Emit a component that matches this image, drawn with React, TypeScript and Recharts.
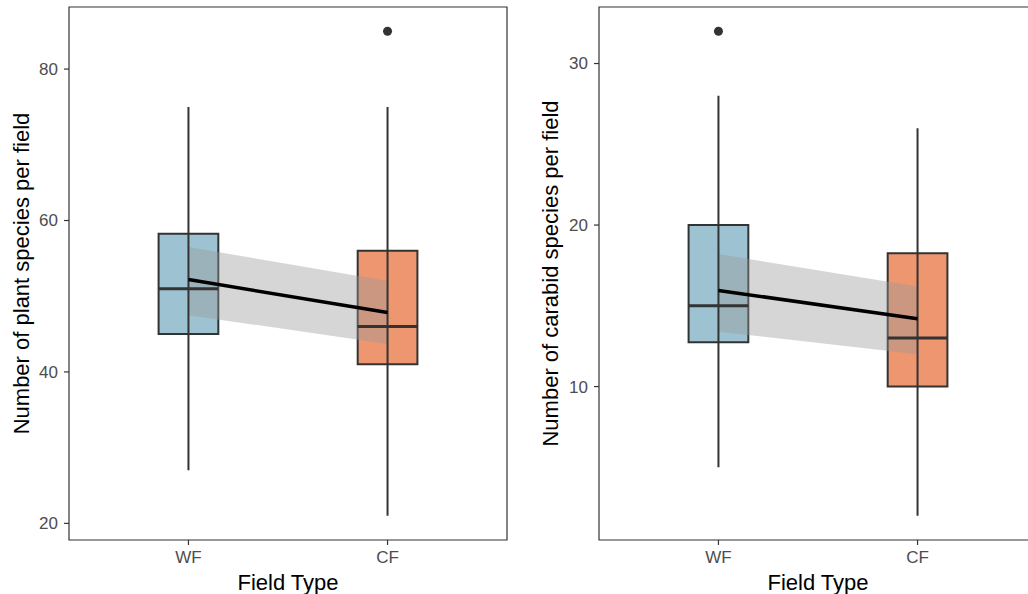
import { ComposedChart, Area, Line, XAxis, YAxis, ReferenceArea, ReferenceLine, ReferenceDot, Label } from "recharts"

const categories = ["WF", "CF"]
const boxColors = ["#9dc3d2", "#ee9670"]

// plant species per field
const plantMin = [27, 21]
const plantQ1 = [45, 41]
const plantMedian = [51, 46]
const plantQ3 = [58.25, 56]
const plantMax = [75, 75]
const plantOutliers = [[], [85]]
const plantFit = [52.2, 47.85]
const plantLower = [47.5, 43.7]
const plantUpper = [56.5, 52.0]
const plantTicks = [20, 40, 60, 80]

// carabid species per field
const carabidMin = [5, 2]
const carabidQ1 = [12.75, 10]
const carabidMedian = [15, 13]
const carabidQ3 = [20, 18.25]
const carabidMax = [28, 26]
const carabidOutliers = [[32], []]
const carabidFit = [15.95, 14.2]
const carabidLower = [13.4, 12.0]
const carabidUpper = [18.2, 16.2]
const carabidTicks = [10, 20, 30]

const font = "'Liberation Sans', Arial, sans-serif"
const halfBox = 0.15
const xDomain: [number, number] = [0.4, 2.6]

type PanelProps = {
  min: number[]
  q1: number[]
  median: number[]
  q3: number[]
  max: number[]
  outliers: number[][]
  fit: number[]
  lower: number[]
  upper: number[]
  yDomain: [number, number]
  yTicks: number[]
  yTitle: string
  width: number
  plotLeft: number
  titleX: number
}

function TickText(props: any) {
  const { x, y, payload, textAnchor, verticalAnchor, tickFormatter } = props
  const label = tickFormatter ? tickFormatter(payload.value) : payload.value
  const dy = verticalAnchor === "start" ? "0.75em" : "0.35em"
  return (
    <text x={x} y={y} dy={dy} textAnchor={textAnchor} fontSize={17} fontFamily={font} fill="#4d4d4d">
      {label}
    </text>
  )
}

function BoxPanel(p: PanelProps) {
  const data = categories.map((c, i) => ({
    x: i + 1,
    fit: p.fit[i],
    band: [p.lower[i], p.upper[i]],
  }))

  return (
    <ComposedChart
      width={p.width}
      height={594}
      data={data}
      margin={{ top: 7, right: 13, left: 0, bottom: 0 }}
      style={{ fontFamily: font }}
    >
      <XAxis
        type="number"
        dataKey="x"
        domain={xDomain}
        ticks={[1, 2]}
        allowDataOverflow
        tickFormatter={(v: number) => categories[v - 1]}
        height={54}
        tickSize={5}
        tickMargin={5}
        axisLine={false}
        tickLine={{ stroke: "#333333", strokeWidth: 1.2 }}
        tick={<TickText />}
      >
        <Label
          content={(props: any) => {
            const vb = props.viewBox
            return (
              <text x={vb.x + vb.width / 2} y={590} textAnchor="middle" fontSize={22} fontFamily={font} fill="#000">
                Field Type
              </text>
            )
          }}
        />
      </XAxis>
      <YAxis
        type="number"
        domain={p.yDomain}
        ticks={p.yTicks}
        allowDataOverflow
        width={p.plotLeft}
        tickSize={5}
        tickMargin={6}
        axisLine={false}
        tickLine={{ stroke: "#333333", strokeWidth: 1.2 }}
        tick={<TickText />}
      >
        <Label
          content={(props: any) => {
            const vb = props.viewBox
            const cy = vb.y + vb.height / 2
            return (
              <text
                x={p.titleX}
                y={cy}
                transform={`rotate(-90 ${p.titleX} ${cy})`}
                textAnchor="middle"
                fontSize={22}
                fontFamily={font}
                fill="#000"
              >
                {p.yTitle}
              </text>
            )
          }}
        />
      </YAxis>

      {categories.map((c, i) => (
        <ReferenceLine
          key={"w" + c}
          segment={[
            { x: i + 1, y: p.min[i] },
            { x: i + 1, y: p.max[i] },
          ]}
          stroke="#333333"
          strokeWidth={2}
        />
      ))}
      {categories.map((c, i) => (
        <ReferenceArea
          key={"b" + c}
          x1={i + 1 - halfBox}
          x2={i + 1 + halfBox}
          y1={p.q1[i]}
          y2={p.q3[i]}
          fill={boxColors[i]}
          fillOpacity={1}
          stroke="#333333"
          strokeWidth={2}
        />
      ))}
      {categories.map((c, i) => (
        <ReferenceLine
          key={"m" + c}
          segment={[
            { x: i + 1 - halfBox, y: p.median[i] },
            { x: i + 1 + halfBox, y: p.median[i] },
          ]}
          stroke="#333333"
          strokeWidth={3}
        />
      ))}
      {categories.map((c, i) =>
        p.outliers[i].map((v, j) => (
          <ReferenceDot key={"o" + c + j} x={i + 1} y={v} r={4.5} fill="#333333" stroke="none" />
        ))
      )}

      <Area
        type="linear"
        dataKey="band"
        fill="#999999"
        fillOpacity={0.4}
        stroke="none"
        isAnimationActive={false}
        activeDot={false}
      />
      <Line
        type="linear"
        dataKey="fit"
        stroke="#000000"
        strokeWidth={3.5}
        dot={false}
        activeDot={false}
        isAnimationActive={false}
      />

      <ReferenceArea
        x1={xDomain[0]}
        x2={xDomain[1]}
        y1={p.yDomain[0]}
        y2={p.yDomain[1]}
        ifOverflow="visible"
        fill="none"
        fillOpacity={0}
        stroke="#333333"
        strokeWidth={1.2}
      />
    </ComposedChart>
  )
}

export default function App() {
  return (
    <div style={{ position: "absolute", left: 0, top: 0, width: 1028, height: 594, background: "#fff", display: "flex", overflow: "hidden" }}>
      <div style={{ width: 520, height: 594 }}>
        <BoxPanel
          min={plantMin}
          q1={plantQ1}
          median={plantMedian}
          q3={plantQ3}
          max={plantMax}
          outliers={plantOutliers}
          fit={plantFit}
          lower={plantLower}
          upper={plantUpper}
          yDomain={[17.8, 88.2]}
          yTicks={plantTicks}
          yTitle="Number of plant species per field"
          width={520}
          plotLeft={69}
          titleX={29}
        />
      </div>
      <div style={{ width: 508, height: 594, overflow: "hidden" }}>
        <BoxPanel
          min={carabidMin}
          q1={carabidQ1}
          median={carabidMedian}
          q3={carabidQ3}
          max={carabidMax}
          outliers={carabidOutliers}
          fit={carabidFit}
          lower={carabidLower}
          upper={carabidUpper}
          yDomain={[0.5, 33.5]}
          yTicks={carabidTicks}
          yTitle="Number of carabid species per field"
          width={530}
          plotLeft={79}
          titleX={38}
        />
      </div>
    </div>
  )
}
